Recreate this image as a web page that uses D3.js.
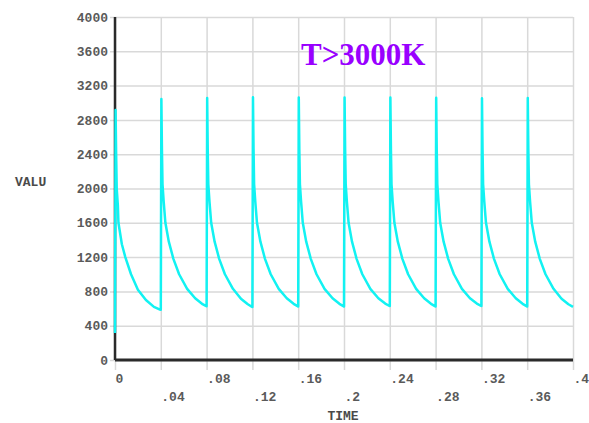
<!DOCTYPE html>
<html>
<head>
<meta charset="utf-8">
<script src="https://cdn.jsdelivr.net/npm/d3@7"></script>
<style>
  body { margin: 0; background: #fff; }
  svg { display: block; }
</style>
</head>
<body>
<svg width="589" height="423"></svg>
<script>
// time (s) and temperature (K), one row per heating pulse
var timeVals = [
  0, 0.0005, 0.001, 0.0015, 0.0025, 0.003, 0.006, 0.009, 0.014, 0.020, 0.027, 0.034, 0.0398,
  0.04, 0.0405, 0.041, 0.0415, 0.0425, 0.044, 0.047, 0.051, 0.056, 0.063, 0.070, 0.076, 0.0798,
  0.08, 0.0805, 0.081, 0.0815, 0.0825, 0.084, 0.087, 0.091, 0.096, 0.103, 0.110, 0.116, 0.1198,
  0.12, 0.1205, 0.121, 0.1215, 0.1225, 0.124, 0.127, 0.131, 0.136, 0.143, 0.150, 0.156, 0.1598,
  0.16, 0.1605, 0.161, 0.1615, 0.1625, 0.164, 0.167, 0.171, 0.176, 0.183, 0.190, 0.196, 0.1998,
  0.2, 0.2005, 0.201, 0.2015, 0.2025, 0.204, 0.207, 0.211, 0.216, 0.223, 0.230, 0.236, 0.2398,
  0.24, 0.2405, 0.241, 0.2415, 0.2425, 0.244, 0.247, 0.251, 0.256, 0.263, 0.270, 0.276, 0.2798,
  0.28, 0.2805, 0.281, 0.2815, 0.2825, 0.284, 0.287, 0.291, 0.296, 0.303, 0.310, 0.316, 0.3198,
  0.32, 0.3205, 0.321, 0.3215, 0.3225, 0.324, 0.327, 0.331, 0.336, 0.343, 0.350, 0.356, 0.3598,
  0.36, 0.3605, 0.361, 0.3615, 0.3625, 0.364, 0.367, 0.371, 0.376, 0.383, 0.390, 0.396, 0.4
];
var tempVals = [
  315, 2915, 2400, 2000, 1800, 1600, 1350, 1200, 1000, 820, 700, 620, 585,
  585, 3045, 2450, 2050, 1850, 1600, 1380, 1180, 1000, 830, 720, 655, 628,
  628, 3055, 2450, 2050, 1850, 1600, 1380, 1180, 1000, 830, 715, 650, 618,
  618, 3065, 2460, 2050, 1850, 1600, 1380, 1180, 1000, 830, 720, 655, 625,
  625, 3060, 2450, 2050, 1850, 1600, 1380, 1180, 1000, 830, 720, 655, 625,
  625, 3060, 2450, 2050, 1850, 1600, 1380, 1180, 1000, 830, 720, 658, 630,
  630, 3060, 2450, 2050, 1850, 1600, 1380, 1180, 1000, 830, 720, 655, 625,
  625, 3058, 2450, 2050, 1850, 1600, 1380, 1180, 1000, 830, 720, 658, 630,
  630, 3052, 2450, 2050, 1850, 1600, 1380, 1180, 1000, 830, 720, 655, 625,
  625, 3055, 2450, 2050, 1850, 1600, 1380, 1180, 1000, 830, 715, 650, 620
];

var xTicks = [0, 0.04, 0.08, 0.12, 0.16, 0.2, 0.24, 0.28, 0.32, 0.36, 0.4];
var xTickLabels = ["0", ".04", ".08", ".12", ".16", ".2", ".24", ".28", ".32", ".36", ".4"];
var yTicks = [0, 400, 800, 1200, 1600, 2000, 2400, 2800, 3200, 3600, 4000];

var svg = d3.select("svg"),
	margin = {left: 115, top: 17},
	width = 458,
	height = 343;

var x = d3.scaleLinear().domain([0, 0.4]).range([0, width]),
	y = d3.scaleLinear().domain([0, 4000]).range([height, 0]);

var g = svg.append("g").attr("transform", "translate(" + margin.left + "," + margin.top + ")");

var tickFont = "'Liberation Mono', 'DejaVu Sans Mono', monospace";

// horizontal grid + y labels
var yAxis = g.append("g")
	.call(d3.axisLeft(y).tickValues(yTicks).tickSize(-width).tickSizeOuter(0).tickPadding(7).tickFormat(d3.format("d")));
yAxis.select(".domain").remove();
yAxis.selectAll(".tick line").attr("x1", -5).attr("stroke", "#d9d9d9").attr("stroke-width", 1.5);
yAxis.selectAll(".tick text")
	.attr("font-family", tickFont).attr("font-size", 13).attr("font-weight", "bold").attr("fill", "#5a5a5a");

// vertical grid + x labels on two rows
var xAxis = g.append("g").attr("transform", "translate(0," + height + ")")
	.call(d3.axisBottom(x).tickValues(xTicks).tickSize(-height).tickSizeOuter(0).tickFormat(function(d, i){ return xTickLabels[i]; }));
xAxis.select(".domain").remove();
xAxis.selectAll(".tick line").attr("y1", 10).attr("stroke", "#d9d9d9").attr("stroke-width", 1.5);
xAxis.selectAll(".tick text")
	.attr("text-anchor", "start")
	.attr("x", 0)
	.attr("dy", null)
	.attr("y", function(d, i){ return i % 2 == 0 ? 23 : 41; })
	.attr("font-family", tickFont).attr("font-size", 13).attr("font-weight", "bold").attr("fill", "#5a5a5a");

// axis lines
g.append("line").attr("x1", 0).attr("x2", 0).attr("y1", 0).attr("y2", height)
	.attr("stroke", "#2a2a2a").attr("stroke-width", 2.5);
g.append("line").attr("x1", 0).attr("x2", width).attr("y1", height).attr("y2", height)
	.attr("stroke", "#2a2a2a").attr("stroke-width", 3);

// curve
var pts = timeVals.map(function(t, i){ return [t, tempVals[i]]; });
g.append("path")
	.datum(pts)
	.attr("fill", "none")
	.attr("stroke", "#12f2f2")
	.attr("stroke-width", 2.5)
	.attr("stroke-linejoin", "round")
	.attr("d", d3.line().x(function(d){ return x(d[0]); }).y(function(d){ return y(d[1]); }));

// axis titles
svg.append("text").attr("x", 343).attr("y", 420).attr("text-anchor", "middle")
	.attr("font-family", tickFont).attr("font-size", 13).attr("font-weight", "bold").attr("fill", "#4a4a4a")
	.text("TIME");
svg.append("text").attr("x", 15).attr("y", 186)
	.attr("font-family", tickFont).attr("font-size", 13).attr("font-weight", "bold").attr("fill", "#4a4a4a")
	.text("VALU");

svg.append("text").attr("x", 301).attr("y", 65)
	.attr("font-family", "'Liberation Serif', 'Times New Roman', serif").attr("font-size", 31).attr("font-weight", "bold")
	.attr("fill", "#9900ff")
	.text("T>3000K");
</script>
</body>
</html>
